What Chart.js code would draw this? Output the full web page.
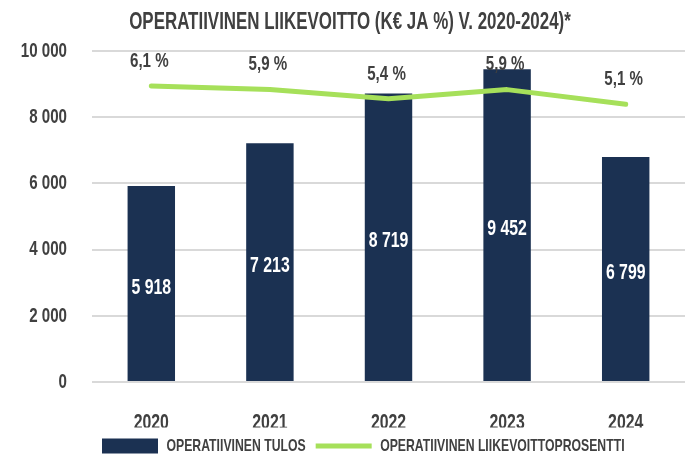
<!DOCTYPE html>
<html>
<head>
<meta charset="utf-8">
<script src="https://cdn.jsdelivr.net/npm/chart.js@4.4.1/dist/chart.umd.min.js"></script>
<style>
  html, body { margin: 0; padding: 0; background: #fff; }
  #wrap { width: 690px; height: 454px; position: relative; }
</style>
</head>
<body>
<div id="wrap"><canvas id="chart"></canvas></div>
<script>
// operatiivinen tulos (k€) ja liikevoittoprosentti
const years = ['2020', '2021', '2022', '2023', '2024'];
const tulos = [5918, 7213, 8719, 9452, 6799];
const liikevoittoPct = [6.1, 5.9, 5.4, 5.9, 5.1];
const yTickLabels = ['0', '2 000', '4 000', '6 000', '8 000', '10 000'];

const NAVY = '#1b3152';
const GREEN = '#a6e05a';
const TEXT = '#404040';
const FONT = "'Liberation Sans', Arial, sans-serif";

const fmtK = v => String(v).replace(/\B(?=(\d{3})+(?!\d))/g, ' ');
const fmtPct = v => v.toFixed(1).replace('.', ',') + ' %';

// the original uses a tall condensed face, so squeeze a normal sans horizontally
const SQUEEZE = 0.72;
function condenseText(ctx, k) {
    const fill = ctx.fillText;
    const measure = ctx.measureText;
    ctx.fillText = function (text, x, y, maxWidth) {
        this.save();
        this.translate(x, y);
        this.scale(k, 1);
        if (maxWidth === undefined) fill.call(this, text, 0, 0);
        else fill.call(this, text, 0, 0, maxWidth / k);
        this.restore();
    };
    ctx.measureText = function (text) {
        const m = measure.call(this, text);
        return {
            width: m.width * k,
            actualBoundingBoxLeft: m.actualBoundingBoxLeft * k,
            actualBoundingBoxRight: m.actualBoundingBoxRight * k,
            actualBoundingBoxAscent: m.actualBoundingBoxAscent,
            actualBoundingBoxDescent: m.actualBoundingBoxDescent
        };
    };
}

// value labels: inside the bars and above the line points
const valueLabels = {
    id: 'valueLabels',
    afterDatasetsDraw(chart) {
        const ctx = chart.ctx;
        ctx.save();
        ctx.textAlign = 'center';
        ctx.textBaseline = 'middle';
        chart.data.datasets.forEach((ds, i) => {
            const meta = chart.getDatasetMeta(i);
            meta.data.forEach((el, j) => {
                if (meta.type === 'bar') {
                    ctx.font = `bold 22px ${FONT}`;
                    ctx.fillStyle = '#ffffff';
                    ctx.fillText(fmtK(ds.data[j]), el.x, (el.y + el.base) / 2 + 4);
                } else {
                    ctx.font = `bold 21px ${FONT}`;
                    ctx.fillStyle = TEXT;
                    ctx.fillText(fmtPct(ds.data[j]), el.x - 2, el.y - 25);
                }
            });
        });
        ctx.restore();
    }
};

const canvas = document.getElementById('chart');
condenseText(canvas.getContext('2d'), SQUEEZE);

new Chart(canvas, {
    data: {
        labels: years,
        datasets: [
            {
                type: 'line',
                label: 'OPERATIIVINEN LIIKEVOITTOPROSENTTI',
                data: liikevoittoPct,
                yAxisID: 'y1',
                borderColor: GREEN,
                backgroundColor: GREEN,
                borderWidth: 5,
                borderCapStyle: 'round',
                borderJoinStyle: 'round',
                pointRadius: 0,
                tension: 0
            },
            {
                type: 'bar',
                label: 'OPERATIIVINEN TULOS',
                data: tulos,
                yAxisID: 'y',
                backgroundColor: NAVY,
                barPercentage: 0.4,
                categoryPercentage: 1
            }
        ]
    },
    options: {
        responsive: true,
        maintainAspectRatio: false,
        animation: false,
        layout: { padding: { left: 15, right: 5, top: 0, bottom: 0 } },
        plugins: {
            title: {
                display: true,
                text: 'OPERATIIVINEN LIIKEVOITTO (K€ JA %) V. 2020-2024)*',
                color: TEXT,
                font: { family: FONT, size: 23.5, weight: 'bold' },
                padding: { top: 8, bottom: 14.8 }
            },
            legend: {
                position: 'bottom',
                align: 'start',
                fullSize: false,
                maxHeight: 26.5,
                labels: {
                    color: TEXT,
                    font: { family: FONT, size: 17, weight: 'bold' },
                    usePointStyle: true,
                    pointStyleWidth: 56,
                    boxHeight: 15,
                    padding: 10,
                    sort: (a, b) => b.datasetIndex - a.datasetIndex,
                    generateLabels(chart) {
                        const items = Chart.defaults.plugins.legend.labels.generateLabels(chart);
                        items.forEach(it => { it.pointStyle = it.datasetIndex === 0 ? 'line' : 'rect'; });
                        return items;
                    }
                }
            },
            tooltip: { enabled: false }
        },
        scales: {
            x: {
                grid: { display: false },
                border: { display: false },
                ticks: { color: TEXT, font: { family: FONT, size: 22, weight: 'bold' }, padding: 20 },
                afterFit(scale) { scale.height = 45.5; }
            },
            y: {
                position: 'left',
                min: 0,
                max: 10000,
                grid: { color: '#d9d9d9', lineWidth: 2, drawTicks: false },
                border: { display: false },
                ticks: {
                    stepSize: 2000,
                    padding: 25,
                    color: TEXT,
                    font: { family: FONT, size: 21, weight: 'bold' },
                    callback: (v, i) => yTickLabels[i]
                },
                afterFit(scale) { scale.width = 77; }
            },
            y1: {
                display: false,
                position: 'right',
                min: -10,
                max: 8
            }
        }
    },
    plugins: [valueLabels]
});
</script>
</body>
</html>
